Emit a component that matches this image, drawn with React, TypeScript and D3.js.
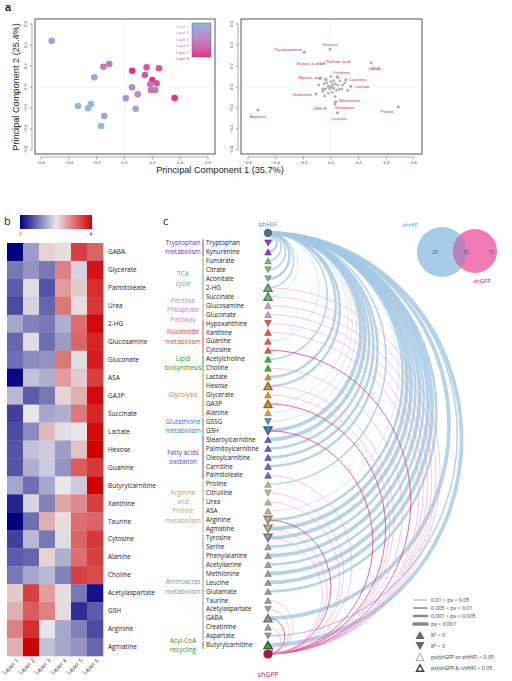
import React from "react";
import * as d3 from "d3";

// ---------------- Panel a data ----------------
const layerNames = ["Layer 1", "Layer 2", "Layer 3", "Layer 4", "Layer 5", "Layer 6"];
const scoreX = [-0.523, -0.152, -0.109, -0.217, 0.056, 0.159, 0.248, 0.147, 0.2, 0.231, 0.185, 0.054, 0.19, 0.221, 0.009, 0.095, 0.36, 0.08, -0.334, -0.241, -0.262, -0.145, -0.169];
const scoreY = [0.44, 0.193, 0.219, 0.092, 0.155, 0.188, 0.178, 0.114, 0.067, 0.035, 0.026, -0.003, -0.029, -0.029, -0.108, -0.07, -0.105, -0.207, -0.181, -0.162, -0.203, -0.276, -0.371];
const scoreLayer = [1, 3, 3, 1, 5, 4, 4, 4, 5, 4, 3, 2, 3, 3, 2, 2, 5, 1, 0, 0, 0, 1, 0];

const loadName = ["Glucose", "Pyroglutamate", "Stearic acid", "Palmitic acid", "GABA", "Ornithine", "Myristic acid", "Carnitine", "Lactate", "Glutamate", "Methionine", "Glutamine", "GSH", "Leucine", "Proline", "Arginine"];
const loadX = [-0.007, -0.193, -0.072, -0.051, 0.289, 0.046, -0.036, 0.108, 0.142, -0.108, 0.034, 0.029, -0.043, 0.046, 0.486, -0.528];
const loadY = [0.362, 0.33, 0.222, 0.225, 0.232, 0.098, 0.076, 0.07, 0.007, -0.067, -0.14, -0.162, -0.203, -0.245, -0.19, -0.219];
const bgLoadX = [0, 0.01, -0.02, 0.02, -0.01, 0.03, -0.03, 0.04, -0.04, 0.0, 0.02, -0.05, 0.05, 0.06, -0.06, 0.01, -0.02, 0.065, -0.08, 0.084, -0.06, 0.05, -0.046, 0.077, 0.1, -0.09, 0.03, 0.12, -0.04, 0.0, 0.015, -0.015];
const bgLoadY = [0, 0.02, 0.01, -0.01, -0.02, 0.03, 0.04, -0.03, -0.02, 0.05, 0.06, 0.03, 0.02, -0.02, -0.04, -0.05, -0.06, 0.057, 0.08, 0.019, -0.02, 0.09, -0.086, -0.02, 0.04, 0.02, -0.09, -0.03, 0.07, 0.1, -0.01, 0.0];

// ---------------- Panel b data ----------------
const hmRows = ["GABA", "Glycerate", "Palmitoleate", "Urea", "2-HG", "Glucosamine", "Gluconate", "ASA", "GA3P", "Succinate", "Lactate", "Hexose", "Guanine", "Butyrylcarnitine", "Xanthine", "Taurine", "Cytosine", "Alanine", "Choline", "Acetylaspartate", "GSH", "Arginine", "Agmatine"];
const hmValues = [
  [-1, 0.7, 1.7, 1.6, 3.3, 2.9],
  [0.3, 0.6, 0.3, 2.6, 1.3, 3.8],
  [0, 1.4, -0.1, 2.3, 1.8, 3.5],
  [-0.2, 1.3, 0.1, 2.7, 1.6, 3.4],
  [0.8, 0.4, 0.3, 0.9, 2.8, 3.9],
  [0.1, 1.4, 0.2, 0.7, 2.9, 3.6],
  [0.2, 0.5, 0.6, 2.7, 1.4, 3.7],
  [-0.9, 1.1, 0.9, 2.3, 1.8, 3.3],
  [1.0, 0, 0.3, 1.7, 2.1, 3.9],
  [-0.3, 1.5, 0.8, 0.9, 2.7, 3.6],
  [-0.2, 0.5, 2.0, 1.4, 1.5, 3.9],
  [-0.1, 1.1, 1.2, 0.7, 1.9, 4.0],
  [-0.1, 0.9, 1.2, 0.6, 3.0, 3.4],
  [0.8, 0.2, 0.8, 1.5, 1.2, 4.0],
  [-0.6, 1.3, 0.4, 2.2, 2.5, 3.3],
  [-1, 0.2, 2.1, 1.6, 2.8, 2.9],
  [-0.3, 1.0, 0.3, 1.4, 2.9, 3.4],
  [0, 0.1, 1.7, 0.9, 2.8, 3.3],
  [0.3, 0.8, 1.0, 0.4, 3.3, 3.2],
  [1.8, 3.3, 2.3, 1.6, 0.3, -0.8],
  [2.1, 3.0, 2.6, 1.6, -0.5, 0],
  [2.6, 3.5, 1.5, 0.8, 0.4, -0.2],
  [2.1, 4.0, 1.1, 0.8, 0.6, 0.1],
];

// ---------------- Panel c data ----------------
const metabolites = ["Tryptophan", "Kynurenine", "Fumarate", "Citrate", "Aconitate", "2-HG", "Succinate", "Glucosamine", "Gluconate", "Hypoxanthine", "Xanthine", "Guanine", "Cytosine", "Acetylcholine", "Choline", "Lactate", "Hexose", "Glycerate", "GA3P", "Alanine", "GSSG", "GSH", "Stearoylcarnitine", "Palmitoylcarnitine", "Oleoylcarnitine", "Carnitine", "Palmitoleate", "Proline", "Citrulline", "Urea", "ASA", "Arginine", "Agmatine", "Tyrosine", "Serine", "Phenylalanine", "Acetylserine", "Methionine", "Leucine", "Glutamate", "Taurine", "Acetylaspartate", "GABA", "Creatinine", "Aspartate", "Butyrylcarnitine"];
const metGroup = [0, 0, 1, 1, 1, 1, 1, 2, 2, 3, 3, 3, 3, 4, 4, 5, 5, 5, 5, 5, 6, 6, 7, 7, 7, 7, 7, 8, 8, 8, 8, 8, 8, 9, 9, 9, 9, 9, 9, 9, 9, 9, 9, 9, 9, 10];
const metDir = [-1, 1, 1, -1, -1, 1, 1, 1, 1, -1, 1, 1, 1, 1, 1, 1, 1, 1, 1, 1, -1, -1, 1, 1, 1, 1, 1, 1, -1, 1, 1, -1, -1, -1, 1, 1, 1, 1, 1, 1, 1, -1, 1, 1, -1, 1];
const blueLevel = [3, 3, 2, 2, 3, 2, 1, 0, 0, 0, 0, 1, 0, 2, 0, 3, 3, 0, 1, 1, 1, 4, 4, 3, 3, 3, 0, 2, 0, 0, 1, 3, 4, 4, 3, 4, 3, 4, 4, 3, 0, 0, 4, 0, 2, 4];
const pinkLevel = [0, 0, 0, 0, 0, 1, 1, 1, 1, 1, 1, 0, 2, 0, 1, 0, 1, 1, 2, 0, 0, 2, 0, 0, 0, 0, 1, 0, 1, 1, 0, 2, 1, 1, 0, 0, 0, 0, 0, 0, 1, 1, 2, 1, 0, 3];
const groupLines = [["Tryptophan", "metabolism"], ["TCA", "cycle"], ["Pentose", "Phosphate", "Pathway"], ["Nucleotide", "metabolism"], ["Lipid", "biosynthesis"], ["Glycolysis"], ["Glutathione", "metabolism"], ["Fatty acids", "oxidation"], ["Arginine", "and", "Proline", "metabolism"], ["Aminoacids", "metabolism"], ["Acyl-CoA", "recycling"]];
const vennCounts = [23, 10, 13];
const pvLegend = ["0.01 < pv < 0.05", "0.005 < pv < 0.01", "0.001 < pv < 0.005", "pv < 0.001"];

// ---------------- styles ----------------
const layerColors = ["#8cb8e2", "#a6a0d6", "#b98bc8", "#c975b8", "#d9559f", "#ee2b86"];
const groupColors = ["#7b22c9", "#66a866", "#c084c8", "#d2412e", "#17a317", "#c4861c", "#3b74b3", "#5446b5", "#b4a47e", "#8c8c8c", "#2b8a1f"];
const pvWidths = [0, 0.7, 1.5, 2.5, 3.7];
const SANS_A = "'Liberation Sans', Arial, sans-serif";
const SANS = "'Open Sans', 'Noto Sans', sans-serif";

const ticks = [-0.6, -0.4, -0.2, 0, 0.2, 0.4, 0.6];
const fmt = d3.format(".1f");

const loadLabelPlace: Record<string, [number, number, string]> = {
  Glucose: [0, -3, "middle"], Pyroglutamate: [-2, -1, "end"], "Stearic acid": [-2, 1.5, "end"], "Palmitic acid": [2, 0, "start"],
  GABA: [3.5, 7, "middle"], Ornithine: [4, -3, "middle"], "Myristic acid": [-4, 0, "end"], Carnitine: [3, 1.5, "start"],
  Lactate: [5, 1.5, "start"], Glutamate: [-4, 1.5, "end"], Methionine: [3.5, 0.5, "start"], Glutamine: [0, 4.5, "start"],
  GSH: [-3, 1.5, "end"], Leucine: [2, 7, "middle"], Proline: [-11, 6, "middle"], Arginine: [0, 8, "middle"],
};

function Frame({ x0, x1, y0, y1, xs, ys }: any) {
  return (
    <g fontFamily={SANS_A}>
      <line x1={xs(0)} x2={xs(0)} y1={y0} y2={y1} stroke="#eee" strokeWidth={0.6} />
      <line x1={x0} x2={x1} y1={ys(0)} y2={ys(0)} stroke="#eee" strokeWidth={0.6} />
      <rect x={x0} y={y0} width={x1 - x0} height={y1 - y0} fill="none" stroke="#444" strokeWidth={0.9} />
      <line x1={xs(-0.6)} x2={xs(0.6)} y1={y1 + 3} y2={y1 + 3} stroke="#555" strokeWidth={0.5} />
      {ticks.map((t) => (
        <g key={"x" + t}>
          <line x1={xs(t)} x2={xs(t)} y1={y1 + 3} y2={y1 + 5.5} stroke="#555" strokeWidth={0.5} />
          <text x={xs(t)} y={y1 + 10} fontSize={4.2} textAnchor="middle" fill="#444">{fmt(t)}</text>
        </g>
      ))}
      <line x1={x0 - 3} x2={x0 - 3} y1={ys(-0.6)} y2={ys(0.6)} stroke="#555" strokeWidth={0.5} />
      {ticks.map((t) => (
        <g key={"y" + t}>
          <line x1={x0 - 5.5} x2={x0 - 3} y1={ys(t)} y2={ys(t)} stroke="#555" strokeWidth={0.5} />
          <text transform={`translate(${x0 - 8},${ys(t)}) rotate(-90)`} fontSize={4.2} textAnchor="middle" fill="#444">{fmt(t)}</text>
        </g>
      ))}
    </g>
  );
}

function PanelA() {
  const sx = d3.scaleLinear().domain([-0.6, 0.6]).range([41, 208]);
  const sy = d3.scaleLinear().domain([-0.6, 0.6]).range([150, 24]);
  const lx = d3.scaleLinear().domain([-0.6, 0.6]).range([248, 414]);
  const legY = d3.scalePoint<string>().domain(layerNames).range([27, 59]);
  return (
    <g>
      <text x={5} y={11} fontSize={11} fontWeight="bold" fontFamily={SANS_A} fill="#222">a</text>
      <Frame x0={35} x1={215} y0={19} y1={154} xs={sx} ys={sy} />
      <Frame x0={241} x1={422} y0={19} y1={154} xs={lx} ys={sy} />
      {scoreX.map((v, i) => (
        <circle key={i} cx={sx(v)} cy={sy(scoreY[i])} r={3.3} fill={layerColors[scoreLayer[i]]} />
      ))}
      <defs>
        <linearGradient id="layerGrad" x1="0" y1="0" x2="0" y2="1">
          {layerColors.map((c, i) => (
            <stop key={i} offset={`${(i / 5) * 100}%`} stopColor={c} />
          ))}
        </linearGradient>
        <linearGradient id="hmGrad" x1="0" y1="0" x2="1" y2="0">
          <stop offset="0%" stopColor="#000080" />
          <stop offset="50%" stopColor="#e8e6e8" />
          <stop offset="100%" stopColor="#d10000" />
        </linearGradient>
      </defs>
      <rect x={192} y={23} width={19} height={34} fill="url(#layerGrad)" stroke="#666" strokeWidth={0.5} />
      {layerNames.map((n, i) => (
        <text key={n} x={189} y={(legY(n) as number) + 1} fontSize={3.8} textAnchor="end" fill={layerColors[i]} fontFamily={SANS_A}>{n}</text>
      ))}
      {bgLoadX.map((v, i) => (
        <circle key={"b" + i} cx={lx(v)} cy={sy(bgLoadY[i])} r={1.5} fill="#b4b4b4" />
      ))}
      {loadName.map((n, i) => {
        const [dx, dy, anchor] = loadLabelPlace[n];
        const px = lx(loadX[i]);
        const py = sy(loadY[i]);
        return (
          <g key={n}>
            <circle cx={px} cy={py} r={1.5} fill="#a8a8a8" />
            <text x={px + dx} y={py + dy} fontSize={4.3} textAnchor={anchor as any} fill="#d0303c" fontFamily={SANS_A}>{n}</text>
          </g>
        );
      })}
      <text x={220} y={173} fontSize={9.2} textAnchor="middle" fill="#222" fontFamily={SANS_A}>Principal Component 1 (35.7%)</text>
      <text transform="translate(19,87) rotate(-90)" fontSize={9.2} textAnchor="middle" fill="#222" fontFamily={SANS_A}>Principal Component 2 (25.4%)</text>
    </g>
  );
}

function PanelB() {
  const x = d3.scaleBand<number>().domain(d3.range(6)).range([7, 103]);
  const y = d3.scaleBand<string>().domain(hmRows).range([243, 656]);
  const color = d3.scaleLinear<string>().domain([-1, 1.5, 4]).range(["#000080", "#e8e6e8", "#d10000"]).clamp(true);
  return (
    <g fontFamily={SANS}>
      <text x={4} y={225} fontSize={11} fill="#222">b</text>
      <rect x={20} y={215} width={72} height={14} fill="url(#hmGrad)" />
      <text x={20} y={236} fontSize={5} textAnchor="middle" fill="#333">-1</text>
      <text x={91} y={236} fontSize={5} textAnchor="middle" fill="#333">4</text>
      {hmRows.map((r, i) => (
        <g key={r}>
          {hmValues[i].map((v, j) => (
            <rect key={j} x={x(j)} y={y(r)} width={x.bandwidth() + 0.3} height={y.bandwidth() + 0.3} fill={color(v)} />
          ))}
          <text x={108} y={(y(r) as number) + y.bandwidth() / 2 + 2.2} fontSize={6.5} fill="#222">{r}</text>
        </g>
      ))}
      {layerNames.map((n, j) => (
        <text key={n} transform={`translate(${(x(j) as number) + x.bandwidth() / 2 + 4},${661}) rotate(-45)`} fontSize={5.8} textAnchor="end" fill="#333">{n}</text>
      ))}
    </g>
  );
}

function tri(cx: number, cy: number, w: number, dir: number) {
  const p = d3.path();
  const h = w * 0.9;
  p.moveTo(cx - w / 2, cy + (dir * h) / 2);
  p.lineTo(cx + w / 2, cy + (dir * h) / 2);
  p.lineTo(cx, cy - (dir * h) / 2);
  p.closePath();
  return p.toString();
}

function PanelC() {
  const nodeX = 268;
  const yHIF = 233;
  const yGFP = 654;
  const y = d3.scalePoint<string>().domain(metabolites).range([243, 645]);
  const k = 0.94;
  const arc = (ya: number, yb: number) => {
    const r = Math.abs(yb - ya) / 2;
    return `M${nodeX},${ya} A${r * k},${r} 0 0 1 ${nodeX},${yb}`;
  };
  const groupIdx = d3.range(groupLines.length);
  return (
    <g fontFamily={SANS}>
      <text x={163} y={225} fontSize={11} fill="#222">c</text>
      {/* blue arcs */}
      {metabolites.map((m, i) =>
        blueLevel[i] > 0 ? (
          <path key={"b" + m} d={arc(yHIF, y(m) as number)} fill="none" stroke="#a2c8e4" strokeOpacity={blueLevel[i] === 1 ? 0.6 : 0.8} strokeWidth={pvWidths[blueLevel[i]]} />
        ) : null
      )}
      {/* pink arcs */}
      {metabolites.map((m, i) =>
        pinkLevel[i] > 0 ? (
          <path key={"p" + m} d={arc(y(m) as number, yGFP)} fill="none" stroke={pinkLevel[i] === 1 ? "#f08ec2" : "#d43c8c"} strokeOpacity={pinkLevel[i] === 1 ? 0.7 : 0.85} strokeWidth={pvWidths[pinkLevel[i]] * (pinkLevel[i] >= 2 ? 0.6 : 1)} />
        ) : null
      )}
      {/* group labels and bars */}
      {groupIdx.map((g) => {
        const members = metabolites.filter((_, i) => metGroup[i] === g);
        const ys = members.map((m) => y(m) as number);
        const top = d3.min(ys) as number;
        const bot = d3.max(ys) as number;
        const mid = (top + bot) / 2;
        const lines = groupLines[g];
        const lh = 9.3;
        return (
          <g key={"g" + g}>
            <line x1={203} x2={203} y1={top - 4} y2={bot + 4} stroke={groupColors[g]} strokeWidth={0.9} />
            {lines.map((t, li) => (
              <text key={li} x={183} y={mid + (li - (lines.length - 1) / 2) * lh + 2.2} fontSize={6.4} textAnchor="middle" fill={groupColors[g]}>{t}</text>
            ))}
          </g>
        );
      })}
      {metabolites.map((m) => (
        <text key={"t" + m} x={206} y={(y(m) as number) + 2.2} fontSize={6.3} fill="#222">{m}</text>
      ))}
      {/* markers */}
      {metabolites.map((m, i) => {
        const both = blueLevel[i] > 0 && pinkLevel[i] > 0;
        const c = groupColors[metGroup[i]];
        const stroke = d3.color(c)!.darker(0.8).toString();
        return (
          <path key={"m" + m} d={tri(nodeX, y(m) as number, both ? 8.2 : 6.8, metDir[i])} fill={c} fillOpacity={0.85} stroke={stroke} strokeWidth={both ? 1.3 : 0.5} />
        );
      })}
      <circle cx={nodeX} cy={yHIF} r={4.2} fill="#4b7093" />
      <circle cx={nodeX} cy={yGFP} r={4.6} fill="#a3174f" />
      <text x={nodeX} y={yHIF - 6} fontSize={7.2} textAnchor="middle" fill="#5d8fbd">shHIF</text>
      <text x={nodeX} y={yGFP + 23} fontSize={7.2} textAnchor="middle" fill="#b0206a">shGFP</text>
      {/* Venn */}
      <defs>
        <clipPath id="blueClip">
          <circle cx={442} cy={252} r={25} />
        </clipPath>
      </defs>
      <circle cx={442} cy={252} r={25} fill="#a6cce7" />
      <circle cx={475} cy={251} r={22} fill="#f47ab6" />
      <circle cx={475} cy={251} r={22} fill="#b784bb" clipPath="url(#blueClip)" />
      <text x={410} y={227} fontSize={6} textAnchor="middle" fill="#5d8fbd">shHIF</text>
      <text x={482} y={283} fontSize={6} textAnchor="middle" fill="#b0206a">shGFP</text>
      {vennCounts.map((v, i) => (
        <text key={"v" + i} x={[435, 466, 491][i]} y={254} fontSize={4.8} textAnchor="middle" fill="#444">{v}</text>
      ))}
      {/* legend */}
      {pvLegend.map((t, i) => (
        <g key={t}>
          <line x1={414} x2={427} y1={600 + i * 8} y2={600 + i * 8} stroke="#8a8a8a" strokeWidth={pvWidths[i + 1]} strokeLinecap="round" />
          <text x={431} y={602 + i * 8} fontSize={5.3} fill="#333">{t}</text>
        </g>
      ))}
      <path d={tri(420, 635, 9, 1)} fill="#666" />
      <text x={431} y={637} fontSize={5.3} fill="#333">R² &gt; 0</text>
      <path d={tri(420, 646, 9, -1)} fill="#666" />
      <text x={431} y={648} fontSize={5.3} fill="#333">R² &lt; 0</text>
      <path d={tri(420, 657, 8, 1)} fill="#fff" stroke="#555" strokeWidth={0.5} />
      <text x={431} y={659} fontSize={5.3} fill="#333">pv(shGFP or shHIF) &lt; 0.05</text>
      <path d={tri(420, 668, 7, 1)} fill="#fff" stroke="#444" strokeWidth={1.5} />
      <text x={431} y={670} fontSize={5.3} fill="#333">pv(shGFP &amp; shHIF) &lt; 0.05</text>
    </g>
  );
}

export default function App() {
  return (
    <div style={{ position: "absolute", left: 0, top: 0 }}>
      <svg width={512} height={681} viewBox="0 0 512 681" style={{ display: "block", background: "#fff" }}>
        <PanelA />
        <PanelB />
        <PanelC />
      </svg>
    </div>
  );
}
